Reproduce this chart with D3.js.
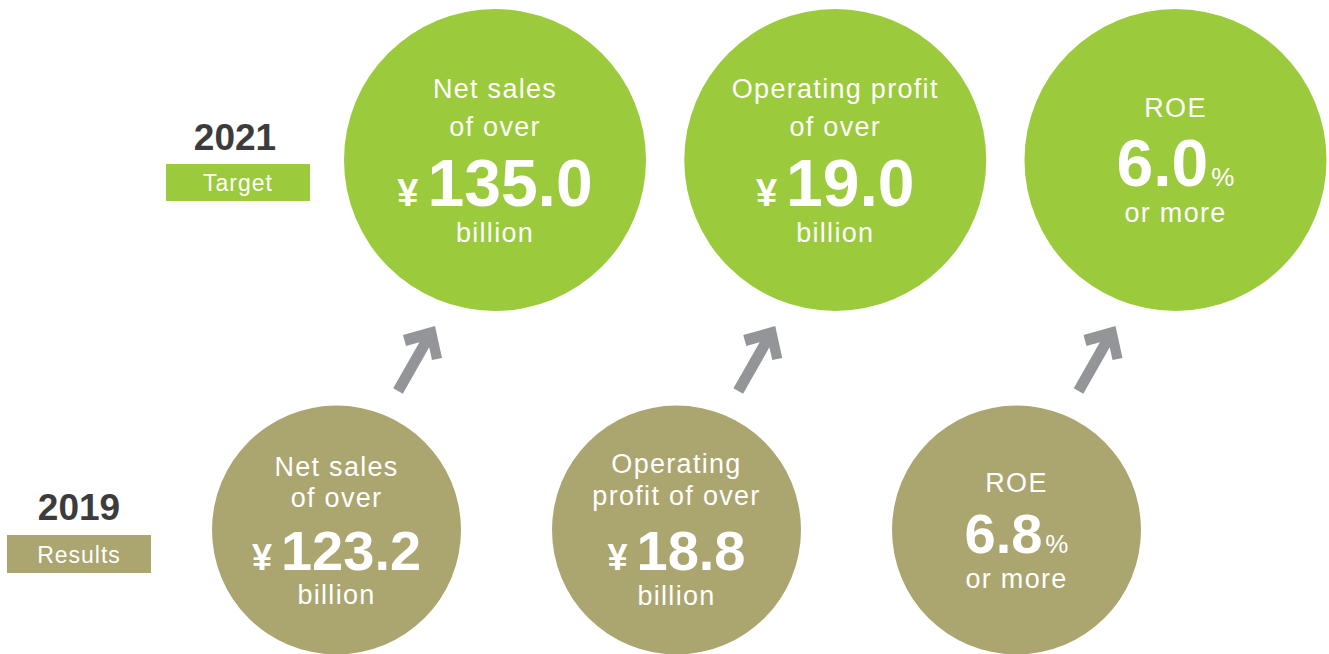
<!DOCTYPE html>
<html>
<head>
<meta charset="utf-8">
<script src="https://cdn.jsdelivr.net/npm/d3@7"></script>
<style>
  html, body { margin: 0; padding: 0; background: #fff; }
  svg { display: block; }
</style>
</head>
<body>
<svg id="chart" width="1329" height="654"></svg>
<script>
// ---- data ----
const categories = ["Net sales", "Operating profit", "ROE"];
const years = ["2021", "2019"];
const yearTags = ["Target", "Results"];
const targetValues = [135.0, 19.0, 6.0];
const resultValues = [123.2, 18.8, 6.8];
const targetUnits = ["¥", "¥", "%"];
const resultUnits = ["¥", "¥", "%"];
const targetLabelLines = [["Net sales", "of over"], ["Operating profit", "of over"], ["ROE"]];
const resultLabelLines = [["Net sales", "of over"], ["Operating", "profit of over"], ["ROE"]];
const targetSuffix = ["billion", "billion", "or more"];
const resultSuffix = ["billion", "billion", "or more"];

// ---- styles ----
const GREEN = "#9bca3c", OLIVE = "#aba56f", GRAY = "#939598", DARK = "#3c3c3c";
const LABEL_FONT = "'Liberation Sans', Arial, Helvetica, sans-serif";

const svg = d3.select("#chart");

// column scales
const xTop = d3.scalePoint().domain(categories).range([495, 1175.5]);
const xBot = d3.scalePoint().domain(categories).range([336.5, 1016.5]);
const rowY = { top: 160, bottom: 530 };
const R = { top: 151, bottom: 124.5 };

// ---- circles ----
function drawRow(row, xs, values, units, labelLines, suffix, color, cfg) {
  const g = svg.append("g");
  const cy = rowY[row];
  const grp = g.selectAll("g.c").data(categories).join("g").attr("class", "c")
    .attr("transform", d => `translate(${xs(d)},${cy})`);
  grp.append("circle").attr("r", R[row]).attr("fill", color);

  grp.each(function(d, i) {
    const s = d3.select(this);
    const isPct = units[i] === "%";
    const L = isPct ? cfg.pct : cfg.yen;
    const lines = labelLines[i];
    lines.forEach((ln, j) => {
      s.append("text").attr("x", 0).attr("y", L.lines[j] + (cfg.op && i === 1 ? cfg.op[j] : 0))
        .attr("text-anchor", "middle").attr("fill", "#fff")
        .attr("font-family", LABEL_FONT).attr("font-size", 27).attr("letter-spacing", 1.3)
        .text(ln);
    });
    const num = s.append("text").attr("x", 0).attr("y", L.num)
      .attr("text-anchor", "middle").attr("fill", "#fff")
      .attr("font-family", LABEL_FONT).attr("font-weight", "bold");
    if (isPct) {
      num.append("tspan").attr("font-size", cfg.numSize).text(values[i].toFixed(1));
      num.append("tspan").attr("font-size", 26).attr("font-weight", "normal").attr("dx", 3).text("%");
    } else {
      num.append("tspan").attr("font-size", cfg.yenSize).text("¥");
      num.append("tspan").attr("font-size", cfg.numSize).attr("dx", 9).text(values[i].toFixed(1));
    }
    s.append("text").attr("x", 0).attr("y", L.suffix + (cfg.op && i === 1 ? cfg.op[2] : 0))
      .attr("text-anchor", "middle").attr("fill", "#fff")
      .attr("font-family", LABEL_FONT).attr("font-size", 27).attr("letter-spacing", 1.3)
      .text(suffix[i]);
  });
}

drawRow("top", xTop, targetValues, targetUnits, targetLabelLines, targetSuffix, GREEN, {
  yen: { lines: [-62, -24], num: 46, suffix: 82 },
  pct: { lines: [-43], num: 26, suffix: 62 },
  numSize: 66, yenSize: 38
});
drawRow("bottom", xBot, resultValues, resultUnits, resultLabelLines, resultSuffix, OLIVE, {
  yen: { lines: [-54, -23], num: 39.5, suffix: 74 },
  pct: { lines: [-38], num: 23, suffix: 58 },
  op: [-3, -2, 1],
  numSize: 56, yenSize: 36
});

// ---- arrows (shape relative to each target circle centre) ----
const arrowShape = [[-60,166],[-92,175],[-89,186],[-75.6,182.2],[-101.8,228.3],[-92.2,233.7],[-65.8,187.3],[-63,200],[-53,198]];
svg.append("g").selectAll("path").data(categories).join("path")
  .attr("d", d => d3.line()(arrowShape.map(p => [xTop(d) + p[0], rowY.top + p[1]])) + "Z")
  .attr("fill", GRAY);

// ---- year labels ----
const yearPos = [
  { yearX: 235, yearY: 150, box: [166, 164, 144, 37], tagY: 191, color: GREEN },
  { yearX: 79, yearY: 520, box: [7, 535, 144, 38], tagY: 563, color: OLIVE }
];
years.forEach((y, i) => {
  const p = yearPos[i];
  svg.append("text").attr("x", p.yearX).attr("y", p.yearY).attr("text-anchor", "middle")
    .attr("font-family", LABEL_FONT).attr("font-weight", "bold").attr("font-size", 37)
    .attr("fill", DARK).text(y);
  svg.append("rect").attr("x", p.box[0]).attr("y", p.box[1]).attr("width", p.box[2]).attr("height", p.box[3])
    .attr("fill", p.color);
  svg.append("text").attr("x", p.box[0] + p.box[2] / 2).attr("y", p.tagY).attr("text-anchor", "middle")
    .attr("font-family", LABEL_FONT).attr("font-size", 23).attr("letter-spacing", 1)
    .attr("fill", "#fff").text(yearTags[i]);
});
</script>
</body>
</html>
